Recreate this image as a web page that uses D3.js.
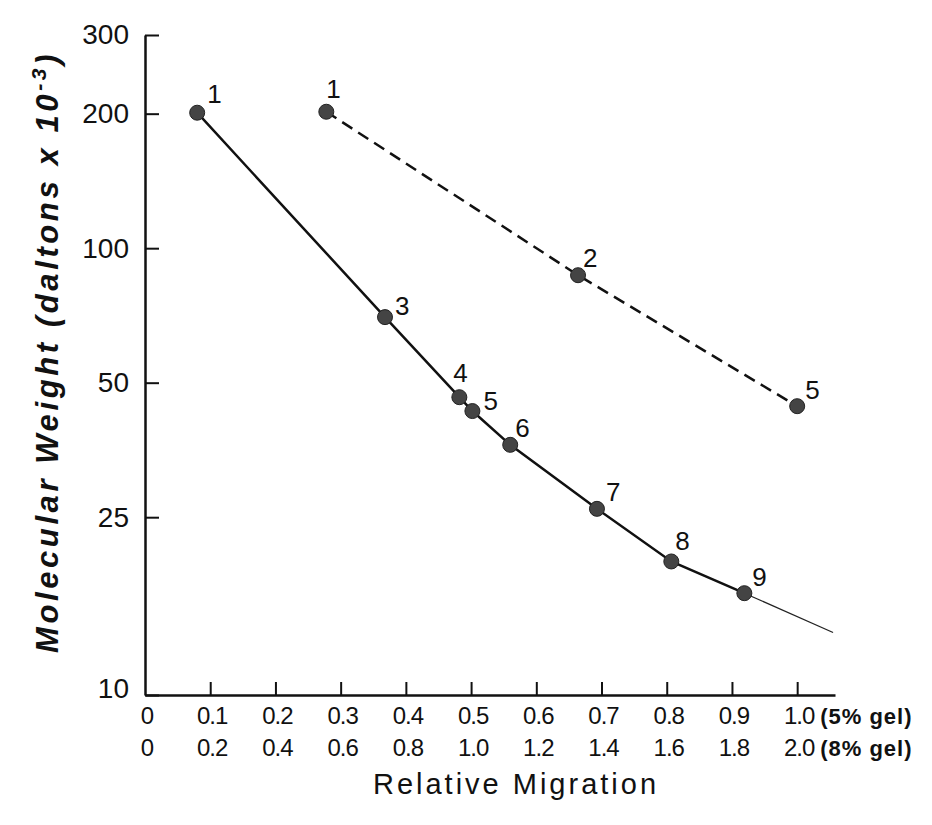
<!DOCTYPE html>
<html>
<head>
<meta charset="utf-8">
<script src="https://cdn.jsdelivr.net/npm/d3@7"></script>
<style>
  body { margin: 0; background: #fff; }
  svg text { font-family: "Liberation Sans", Arial, sans-serif; fill: #111; }
</style>
</head>
<body>
<div class="chart"></div>
<script>
// Data (relative migration, 5% gel scale; MW in kDa)
var solidX = [0.080, 0.368, 0.482, 0.502, 0.560, 0.693, 0.807, 0.919];
var solidY = [201, 70.1, 46.4, 43.2, 36.3, 26.1, 19.9, 16.9];
var solidLabels = ["1", "3", "4", "5", "6", "7", "8", "9"];
var solidTailX = [0.919, 1.055];
var solidTailY = [16.9, 13.8];

var dashX = [0.278, 0.664, 1.0];
var dashY = [202, 87, 44.3];
var dashLabels = ["1", "2", "5"];

var yTicks = [10, 25, 50, 100, 200, 300];
var xTicks = [0, 0.1, 0.2, 0.3, 0.4, 0.5, 0.6, 0.7, 0.8, 0.9, 1.0];
var xRow1 = ["0", "0.1", "0.2", "0.3", "0.4", "0.5", "0.6", "0.7", "0.8", "0.9", "1.0"];
var xRow2 = ["0", "0.2", "0.4", "0.6", "0.8", "1.0", "1.2", "1.4", "1.6", "1.8", "2.0"];
var rowSuffix = ["(5% gel)", "(8% gel)"];

// canvas
var svgWidth = 932;
var svgHeight = 825;
var margin = { top: 35, left: 145 };
var width = 690;
var height = 660;

var svg = d3.select(".chart")
            .append("svg")
            .attr("width", svgWidth)
            .attr("height", svgHeight);

var chartGroup = svg.append("g")
                    .attr("transform", `translate(${margin.left}, ${margin.top})`);

// scales
var xScale = d3.scaleLinear().domain([0, 1.058]).range([0, width]);
var yScale = d3.scaleLog().domain([10, 300]).range([height, 0]);

// axes (ticks point inward)
var bottomAxis = d3.axisBottom(xScale)
                   .tickValues(xTicks.slice(1))
                   .tickSizeInner(-13)
                   .tickSizeOuter(0)
                   .tickFormat("");
var leftAxis = d3.axisLeft(yScale)
                 .tickValues(yTicks)
                 .tickSizeInner(-14)
                 .tickSizeOuter(0)
                 .tickPadding(16)
                 .tickFormat(d3.format("d"));

var gx = chartGroup.append("g")
          .attr("transform", `translate(0, ${height})`)
          .call(bottomAxis);
var gy = chartGroup.append("g").call(leftAxis);

[gx, gy].forEach(function(g) {
    g.select(".domain").attr("stroke", "#111").attr("stroke-width", 2.5);
    g.selectAll(".tick line").attr("stroke", "#111").attr("stroke-width", 2);
});
gy.selectAll(".tick text")
  .style("font-size", "28px")
  .attr("fill", "#111");
// the bottom label sits a little higher, beside the corner
gy.selectAll(".tick text").filter(d => d === 10).attr("dy", "0.1em");

// two rows of x labels
var rows = [xRow1, xRow2];
rows.forEach(function(row, i) {
    chartGroup.append("g").selectAll("text")
        .data(row)
        .enter()
        .append("text")
        .attr("x", (d, j) => xScale(xTicks[j]) + 2)
        .attr("y", height + 29 + i * 32)
        .attr("text-anchor", "middle")
        .style("font-size", "24px")
        .style("letter-spacing", "-1px")
        .text(d => d);
    chartGroup.append("text")
        .attr("x", xScale(1.0) + 23)
        .attr("y", height + 29 + i * 32)
        .style("font-size", "22px")
        .style("font-weight", "bold")
        .style("letter-spacing", "1px")
        .text(rowSuffix[i]);
});

// axis titles
svg.append("text")
   .attr("x", 516)
   .attr("y", 794)
   .attr("text-anchor", "middle")
   .style("font-size", "29px")
   .style("letter-spacing", "3px")
   .text("Relative Migration");

var yTitle = svg.append("text")
   .attr("transform", "translate(58, 352) rotate(-90)")
   .attr("text-anchor", "middle")
   .style("font-size", "31px")
   .style("font-style", "italic")
   .style("font-weight", "bold")
   .style("letter-spacing", "3.6px");
yTitle.append("tspan").text("Molecular Weight (daltons x 10");
yTitle.append("tspan").attr("dy", -12).style("font-size", "21px").text("-3");
yTitle.append("tspan").attr("dy", 12).text(")");

// lines
var line = d3.line().x(d => xScale(d[0])).y(d => yScale(d[1]));
var solidPts = d3.zip(solidX, solidY);
var dashPts = d3.zip(dashX, dashY);

chartGroup.append("path")
    .datum(d3.zip(solidTailX, solidTailY))
    .attr("d", line)
    .attr("fill", "none")
    .attr("stroke", "#222")
    .attr("stroke-width", 1.2);

chartGroup.append("path")
    .datum(solidPts)
    .attr("d", line)
    .attr("fill", "none")
    .attr("stroke", "#111")
    .attr("stroke-width", 2.5);

chartGroup.append("path")
    .datum(dashPts)
    .attr("d", line)
    .attr("fill", "none")
    .attr("stroke", "#111")
    .attr("stroke-width", 2.5)
    .attr("stroke-dasharray", "12,7");

// points and their lane numbers
var nudge = {
    "s1": [10, -10], "s3": [10, -2], "s4": [-6, -15], "s5": [11, -1],
    "s6": [5, -8], "s7": [9, -8], "s8": [4, -11], "s9": [8, -7],
    "d1": [0, -14], "d2": [5, -8], "d5": [8, -7]
};

function drawPoints(pts, labels, key) {
    chartGroup.append("g").selectAll("circle")
        .data(pts)
        .enter()
        .append("circle")
        .attr("cx", d => xScale(d[0]))
        .attr("cy", d => yScale(d[1]))
        .attr("r", 7.5)
        .attr("fill", "#444")
        .attr("stroke", "#222")
        .attr("stroke-width", 1);
    chartGroup.append("g").selectAll("text")
        .data(pts)
        .enter()
        .append("text")
        .attr("x", (d, i) => xScale(d[0]) + (nudge[key + labels[i]] || [8, -8])[0])
        .attr("y", (d, i) => yScale(d[1]) + (nudge[key + labels[i]] || [8, -8])[1])
        .style("font-size", "26px")
        .text((d, i) => labels[i]);
}
drawPoints(solidPts, solidLabels, "s");
drawPoints(dashPts, dashLabels, "d");
</script>
</body>
</html>
